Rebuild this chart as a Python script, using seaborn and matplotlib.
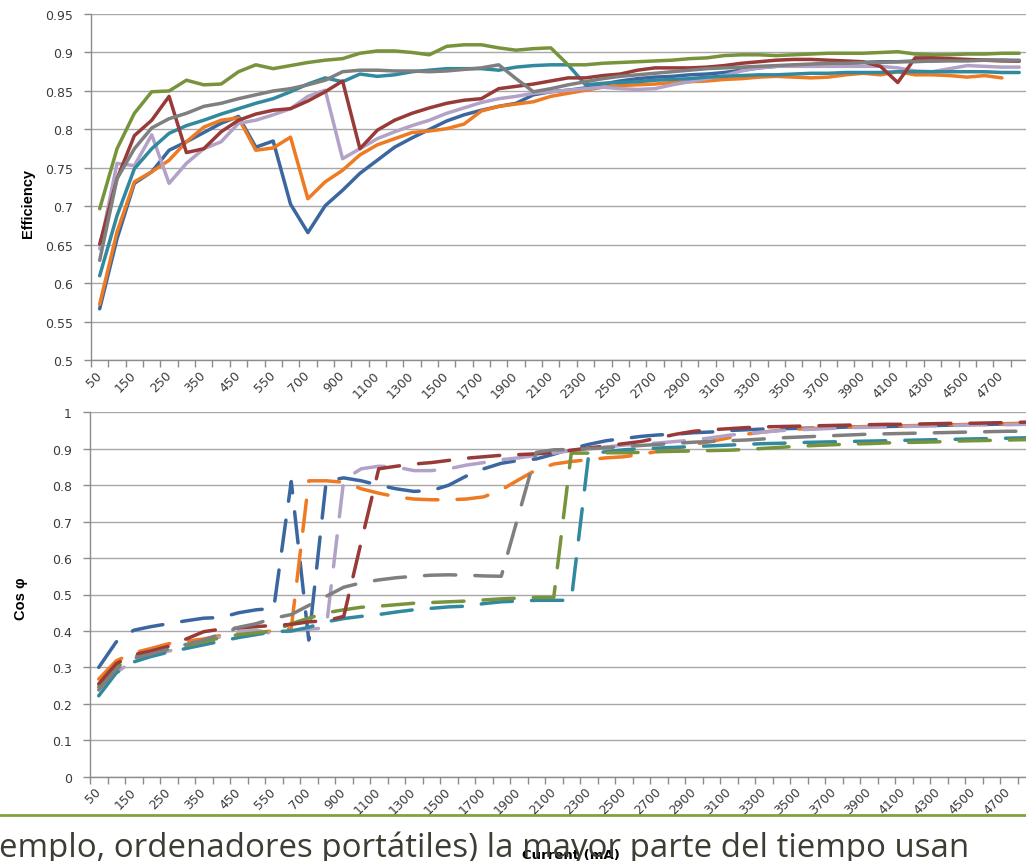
import numpy as np
import pandas as pd
import matplotlib
matplotlib.use("Agg")
import matplotlib.pyplot as plt
import seaborn as sns

# ---------------- data ----------------
current_ma = [50, 100, 150, 200, 250, 300, 350, 400, 450, 500, 550, 600,
              700, 800, 900, 1000, 1100, 1200, 1300, 1400, 1500, 1600, 1700,
              1800, 1900, 2000, 2100, 2200, 2300, 2400, 2500, 2600, 2700,
              2800, 2900, 3000, 3100, 3200, 3300, 3400, 3500, 3600, 3700,
              3800, 3900, 4000, 4100, 4200, 4300, 4400, 4500, 4600, 4700, 4800]

series_names = ["S1", "S2", "S3", "S4", "S5", "S6", "S7"]
series_colors = ["#3A67A0", "#EE7A22", "#B3A2C7", "#31899F", "#77933C", "#983A38", "#7F7F7F"]

eff_s1 = [0.567, 0.658, 0.730, 0.745, 0.773, 0.784, 0.796, 0.808, 0.817, 0.777, 0.785, 0.703, 0.666,
          0.701, 0.721, 0.743, 0.760, 0.777, 0.789, 0.800, 0.811, 0.819, 0.825, 0.830, 0.834, 0.845, 0.849, 0.851, 0.854,
          0.859, 0.863, 0.866, 0.868, 0.869, 0.871, 0.872, 0.874, 0.877, 0.880, 0.882, 0.883, 0.884, 0.885, 0.886,
          0.887, 0.888, 0.888, 0.889, 0.889, 0.890, 0.890, 0.890, 0.890, 0.889]
eff_s2 = [0.573, 0.667, 0.732, 0.745, 0.760, 0.784, 0.803, 0.812, 0.815, 0.773, 0.776, 0.790, 0.710,
          0.732, 0.747, 0.767, 0.780, 0.788, 0.796, 0.798, 0.801, 0.807, 0.824, 0.830, 0.833, 0.836, 0.843, 0.847, 0.851,
          0.855, 0.857, 0.858, 0.859, 0.861, 0.862, 0.863, 0.865, 0.866, 0.868, 0.869, 0.868, 0.867, 0.868, 0.871,
          0.873, 0.871, 0.875, 0.871, 0.871, 0.870, 0.868, 0.870, 0.867, np.nan]
eff_s3 = [0.645, 0.756, 0.753, 0.793, 0.730, 0.756, 0.775, 0.784, 0.808, 0.812, 0.819, 0.827, 0.843,
          0.851, 0.762, 0.775, 0.788, 0.797, 0.805, 0.812, 0.821, 0.828, 0.835, 0.840, 0.843, 0.847, 0.849, 0.851, 0.853,
          0.855, 0.853, 0.852, 0.853, 0.858, 0.862, 0.866, 0.870, 0.876, 0.880, 0.882, 0.882, 0.882, 0.882, 0.882,
          0.882, 0.882, 0.880, 0.876, 0.875, 0.879, 0.883, 0.882, 0.881, 0.881]
eff_s4 = [0.610, 0.688, 0.749, 0.775, 0.795, 0.805, 0.812, 0.820, 0.827, 0.834, 0.840, 0.849, 0.859,
          0.867, 0.862, 0.872, 0.869, 0.871, 0.875, 0.877, 0.879, 0.879, 0.879, 0.877, 0.881, 0.883, 0.884, 0.884, 0.858,
          0.860, 0.861, 0.862, 0.864, 0.865, 0.866, 0.868, 0.869, 0.870, 0.871, 0.871, 0.872, 0.873, 0.873, 0.874,
          0.874, 0.874, 0.875, 0.875, 0.875, 0.875, 0.875, 0.875, 0.874, 0.874]
eff_s5 = [0.697, 0.775, 0.821, 0.849, 0.850, 0.864, 0.858, 0.859, 0.875, 0.884, 0.879, 0.883, 0.887,
          0.890, 0.892, 0.899, 0.902, 0.902, 0.900, 0.897, 0.908, 0.910, 0.910, 0.906, 0.903, 0.905, 0.906, 0.884, 0.884,
          0.886, 0.887, 0.888, 0.889, 0.890, 0.892, 0.893, 0.896, 0.897, 0.897, 0.896, 0.897, 0.898, 0.899, 0.899,
          0.899, 0.900, 0.901, 0.898, 0.897, 0.897, 0.898, 0.898, 0.899, 0.899]
eff_s6 = [0.651, 0.736, 0.792, 0.812, 0.843, 0.770, 0.775, 0.797, 0.812, 0.820, 0.825, 0.827, 0.837,
          0.849, 0.863, 0.775, 0.799, 0.812, 0.821, 0.828, 0.834, 0.838, 0.840, 0.853, 0.856, 0.859, 0.863, 0.867, 0.867,
          0.870, 0.872, 0.877, 0.880, 0.880, 0.880, 0.881, 0.883, 0.886, 0.888, 0.890, 0.891, 0.891, 0.890, 0.889,
          0.888, 0.882, 0.861, 0.893, 0.893, 0.892, 0.891, 0.890, 0.889, 0.889]
eff_s7 = [0.630, 0.736, 0.775, 0.802, 0.814, 0.821, 0.830, 0.834, 0.840, 0.845, 0.850, 0.853, 0.858,
          0.864, 0.875, 0.877, 0.877, 0.876, 0.876, 0.875, 0.876, 0.878, 0.880, 0.884, 0.866, 0.849, 0.853, 0.858, 0.862,
          0.866, 0.869, 0.871, 0.873, 0.875, 0.877, 0.879, 0.880, 0.881, 0.882, 0.883, 0.884, 0.885, 0.886, 0.886,
          0.887, 0.887, 0.888, 0.888, 0.889, 0.889, 0.889, 0.890, 0.890, 0.890]

cos_s1 = [0.300, 0.370, 0.402, 0.412, 0.420, 0.428, 0.435, 0.437, 0.450, 0.458, 0.462, 0.810, 0.375,
          0.812, 0.820, 0.812, 0.800, 0.790, 0.783, 0.785, 0.800, 0.825, 0.845, 0.860, 0.868, 0.872, 0.885, 0.900, 0.912,
          0.922, 0.928, 0.934, 0.938, 0.940, 0.944, 0.946, 0.950, 0.952, 0.954, 0.955, 0.956, 0.957, 0.958, 0.960,
          0.960, 0.961, 0.962, 0.963, 0.964, 0.965, 0.966, 0.967, 0.968, 0.968]
cos_s2 = [0.268, 0.318, 0.340, 0.352, 0.365, 0.372, 0.378, 0.388, 0.392, 0.396, 0.400, 0.407, 0.812,
          0.812, 0.808, 0.790, 0.778, 0.768, 0.762, 0.760, 0.760, 0.762, 0.768, 0.787, 0.815, 0.842, 0.858, 0.865, 0.870,
          0.875, 0.878, 0.885, 0.893, 0.900, 0.912, 0.920, 0.930, 0.940, 0.946, 0.951, 0.954, 0.956, 0.958, 0.960,
          0.961, 0.962, 0.963, 0.964, 0.965, 0.966, 0.967, 0.968, 0.969, 0.970]
cos_s3 = [0.250, 0.285, 0.320, 0.332, 0.345, 0.355, 0.370, 0.385, 0.398, 0.402, 0.392, 0.400, 0.405,
          0.408, 0.815, 0.845, 0.852, 0.850, 0.840, 0.840, 0.845, 0.855, 0.862, 0.870, 0.875, 0.882, 0.888, 0.895, 0.900,
          0.905, 0.910, 0.913, 0.916, 0.920, 0.924, 0.930, 0.937, 0.942, 0.946, 0.950, 0.952, 0.954, 0.956, 0.958,
          0.959, 0.960, 0.961, 0.962, 0.963, 0.964, 0.965, 0.966, 0.966, 0.967]
cos_s4 = [0.222, 0.285, 0.315, 0.330, 0.342, 0.352, 0.362, 0.372, 0.382, 0.390, 0.398, 0.400, 0.410,
          0.425, 0.434, 0.440, 0.445, 0.452, 0.458, 0.462, 0.466, 0.468, 0.475, 0.480, 0.482, 0.484, 0.484, 0.484, 0.885,
          0.892, 0.897, 0.900, 0.902, 0.904, 0.906, 0.908, 0.910, 0.912, 0.914, 0.915, 0.917, 0.918, 0.919, 0.920,
          0.921, 0.922, 0.923, 0.924, 0.925, 0.926, 0.927, 0.928, 0.929, 0.930]
cos_s5 = [0.245, 0.300, 0.330, 0.340, 0.350, 0.360, 0.370, 0.382, 0.390, 0.395, 0.400, 0.420, 0.435,
          0.450, 0.458, 0.465, 0.468, 0.472, 0.476, 0.478, 0.480, 0.482, 0.485, 0.488, 0.490, 0.492, 0.492, 0.888, 0.888,
          0.889, 0.889, 0.890, 0.892, 0.893, 0.894, 0.895, 0.896, 0.898, 0.901, 0.904, 0.907, 0.909, 0.911, 0.913,
          0.914, 0.916, 0.917, 0.918, 0.919, 0.921, 0.922, 0.923, 0.924, 0.925]
cos_s6 = [0.255, 0.310, 0.335, 0.345, 0.358, 0.378, 0.398, 0.405, 0.408, 0.412, 0.415, 0.418, 0.425,
          0.428, 0.440, 0.645, 0.845, 0.852, 0.858, 0.862, 0.868, 0.874, 0.878, 0.882, 0.884, 0.886, 0.890, 0.896, 0.902,
          0.908, 0.914, 0.920, 0.930, 0.940, 0.948, 0.952, 0.955, 0.958, 0.960, 0.961, 0.962, 0.963, 0.964, 0.965,
          0.966, 0.967, 0.967, 0.968, 0.969, 0.970, 0.970, 0.971, 0.972, 0.973]
cos_s7 = [0.238, 0.295, 0.325, 0.337, 0.350, 0.363, 0.375, 0.392, 0.410, 0.420, 0.435, 0.445, 0.470,
          0.495, 0.520, 0.532, 0.540, 0.546, 0.550, 0.553, 0.554, 0.553, 0.551, 0.550, 0.720, 0.890, 0.897, 0.898, 0.900,
          0.903, 0.906, 0.909, 0.912, 0.915, 0.918, 0.920, 0.922, 0.924, 0.927, 0.930, 0.932, 0.934, 0.936, 0.938,
          0.940, 0.941, 0.942, 0.943, 0.944, 0.945, 0.946, 0.947, 0.948, 0.948]

eff_yticks = [0.5, 0.55, 0.6, 0.65, 0.7, 0.75, 0.8, 0.85, 0.9, 0.95]
cos_yticks = [0, 0.1, 0.2, 0.3, 0.4, 0.5, 0.6, 0.7, 0.8, 0.9, 1]
eff_label = "Efficiency"
cos_label = "Cos φ"
x_label = "Current (mA)"
slide_text = "emplo, ordenadores portátiles) la mayor parte del tiempo usan"

eff_data = [eff_s1, eff_s2, eff_s3, eff_s4, eff_s5, eff_s6, eff_s7]
cos_data = [cos_s1, cos_s2, cos_s3, cos_s4, cos_s5, cos_s6, cos_s7]


def long_frame(arrays):
    rows = []
    for name, vals in zip(series_names, arrays):
        for i, v in enumerate(vals):
            rows.append({"pos": i, "current": current_ma[i], "series": name, "value": v})
    return pd.DataFrame(rows)


df_eff = long_frame(eff_data)
df_cos = long_frame(cos_data)

# ---------------- style ----------------
sns.set_theme(style="white")
plt.rcParams["font.family"] = ["DejaVu Sans"]

W, H = 1026, 862
fig = plt.figure(figsize=(W / 100, H / 100), dpi=100)
fig.patch.set_facecolor("white")


def px_axes(left, top, right, bottom):
    return fig.add_axes([left / W, 1 - bottom / H, (right - left) / W, (bottom - top) / H])


ax1 = px_axes(91, 15.0, 91 + 54 * 17.35, 361.4)
ax2 = px_axes(90, 413.3, 90 + 54 * 17.5, 777.7)

palette = dict(zip(series_names, series_colors))

sns.lineplot(data=df_eff, x="pos", y="value", hue="series", palette=palette,
             linewidth=2.5, legend=False, ax=ax1, estimator=None)
sns.lineplot(data=df_cos, x="pos", y="value", hue="series", palette=palette,
             style="series", dashes={n: (9, 5.5) for n in series_names},
             linewidth=2.5, legend=False, ax=ax2, estimator=None)

for ax in (ax1, ax2):
    for ln in ax.lines:
        ln.set_solid_capstyle("round")
        ln.set_dash_capstyle("round")
        ln.set_solid_joinstyle("round")
        ln.set_dash_joinstyle("round")

grid_c = "#A8A8A8"
axis_c = "#8C8C8C"
tick_txt = "#3A3A3A"


def style_axes(ax, yticks, ylim):
    ax.set_facecolor("white")
    ax.set_xlim(-0.5, 53.5)
    ax.set_ylim(*ylim)
    ax.set_yticks(yticks)
    ax.set_yticklabels([f"{t:g}" for t in yticks])
    ax.yaxis.grid(True, color=grid_c, linewidth=1.0)
    ax.xaxis.grid(False)
    ax.set_axisbelow(True)
    for s in ("top", "right"):
        ax.spines[s].set_visible(False)
    for s in ("left", "bottom"):
        ax.spines[s].set_color(axis_c)
        ax.spines[s].set_linewidth(1.0)
    major = list(range(0, len(current_ma), 2))
    ax.set_xticks(major)
    ax.set_xticklabels([str(current_ma[i]) for i in major], rotation=45,
                       ha="right", va="center", rotation_mode="anchor")
    ax.set_xticks([i - 0.5 for i in range(len(current_ma) + 1)], minor=True)
    ax.tick_params(axis="x", which="major", length=0, pad=9, labelsize=9,
                   labelcolor=tick_txt)
    ax.tick_params(axis="x", which="minor", length=5, width=1.0, color=axis_c,
                   direction="out", bottom=True)
    ax.tick_params(axis="y", length=5, width=1.0, color=axis_c, direction="out",
                   pad=8, labelsize=9, labelcolor=tick_txt, left=True)
    ax.set_xlabel("")
    ax.set_ylabel("")


style_axes(ax1, eff_yticks, (0.5, 0.95))
style_axes(ax2, cos_yticks, (0, 1))

lab_font = ["Liberation Sans Narrow", "Liberation Sans", "DejaVu Sans"]
fig.text(28 / W, 1 - 204 / H, eff_label, rotation=90, ha="center", va="center",
         fontsize=10.5, fontweight="bold", family=lab_font, color="black")
fig.text(21 / W, 1 - 599 / H, cos_label, rotation=90, ha="center", va="center",
         fontsize=10.5, fontweight="bold", family=lab_font, color="black")
fig.text(571 / W, 1 - 849 / H, x_label, ha="center", va="top",
         fontsize=9.5, fontweight="bold", color="black", zorder=5)

# slide decoration: green rule and body text
fig.add_artist(plt.Line2D([0, 1], [1 - 816 / H, 1 - 816 / H], transform=fig.transFigure,
                          color="#7FA534", linewidth=2.0))
t = fig.text(-1 / W, 1 - 857 / H, slide_text, ha="left", va="baseline",
             fontsize=22, color="#3D3D33", family=["Open Sans", "DejaVu Sans"], zorder=10)
fig.canvas.draw()
bb = t.get_window_extent(renderer=fig.canvas.get_renderer())
t.set_fontsize(22 * 967 / bb.width)

fig.savefig("out.png", dpi=100, facecolor="white")
